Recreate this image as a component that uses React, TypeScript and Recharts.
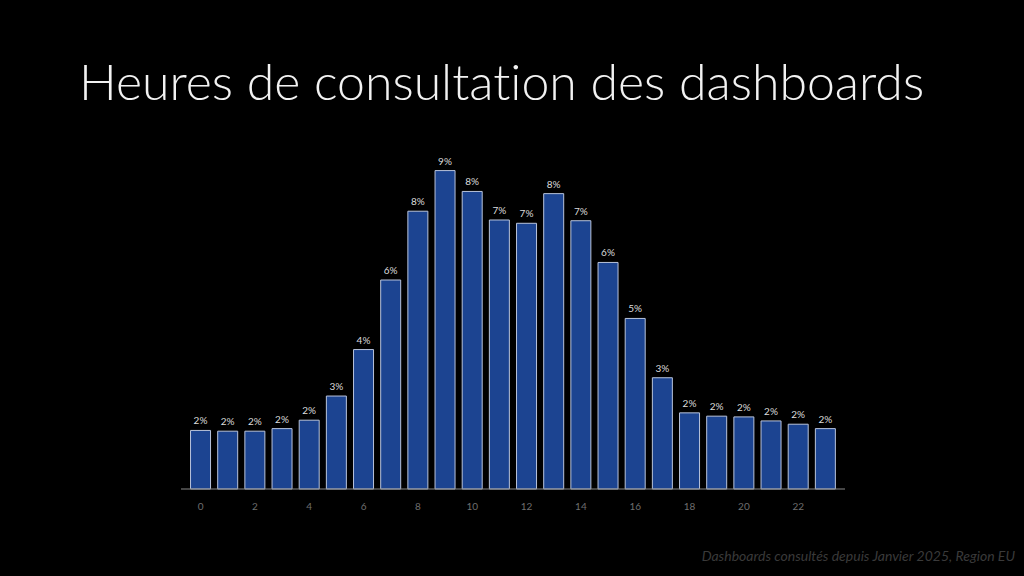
import { BarChart, Bar, XAxis, YAxis, LabelList } from 'recharts'

// heure de la journée (0-23) et part des consultations en %
const hours = [
  0, 1, 2, 3, 4, 5, 6, 7, 8, 9, 10, 11, 12, 13, 14, 15, 16, 17, 18, 19, 20, 21, 22, 23,
]
const shares = [
  1.6, 1.58, 1.58, 1.65, 1.88, 2.54, 3.81, 5.71, 7.59, 8.7, 8.13, 7.35, 7.26, 8.07, 7.33, 6.19,
  4.66, 3.04, 2.08, 1.99, 1.97, 1.86, 1.77, 1.65,
]

const title = 'Heures de consultation des dashboards'
const footnote = 'Dashboards consultés depuis Janvier 2025, Region EU'

const data = hours.map((h, i) => ({ hour: h, share: shares[i] }))

const App = () => {
  return (
    <div
      style={{
        position: 'absolute',
        left: 0,
        top: 0,
        width: 1024,
        height: 576,
        background: '#000',
        overflow: 'hidden',
        fontFamily: 'Lato, sans-serif',
      }}
    >
      <div
        style={{
          position: 'absolute',
          left: 79,
          top: 51,
          fontSize: 50,
          fontWeight: 300,
          color: '#f2f2f2',
          lineHeight: '60px',
          whiteSpace: 'nowrap',
          fontVariantLigatures: 'none',
        }}
      >
        {title}
      </div>
      <div style={{ position: 'absolute', left: 0, top: 0 }}>
        <BarChart
          width={1024}
          height={576}
          data={data}
          margin={{ top: 123, right: 179, bottom: 57, left: 181 }}
          barCategoryGap="13%"
        >
          <XAxis
            dataKey="hour"
            interval={1}
            tickLine={false}
            tickMargin={8}
            height={30}
            padding={{ left: 6, right: 6 }}
            stroke="#8a8a8a"
            tick={{ fill: '#6e6e6e', fontSize: 10, fontFamily: 'Lato, sans-serif' }}
          />
          <YAxis hide domain={[0, 10]} />
          <Bar
            dataKey="share"
            fill="#1c4491"
            stroke="#b9c4dc"
            strokeWidth={1}
            isAnimationActive={false}
          >
            <LabelList
              dataKey="share"
              position="top"
              offset={6}
              formatter={(v: number) => `${Math.round(v)}%`}
              style={{ fill: '#dcdcdc', fontSize: 10, fontFamily: 'Lato, sans-serif' }}
            />
          </Bar>
        </BarChart>
      </div>
      <div
        style={{
          position: 'absolute',
          right: 9,
          top: 547,
          fontSize: 14,
          fontStyle: 'italic',
          color: '#3a3a3a',
          whiteSpace: 'nowrap',
        }}
      >
        {footnote}
      </div>
    </div>
  )
}

export default App
